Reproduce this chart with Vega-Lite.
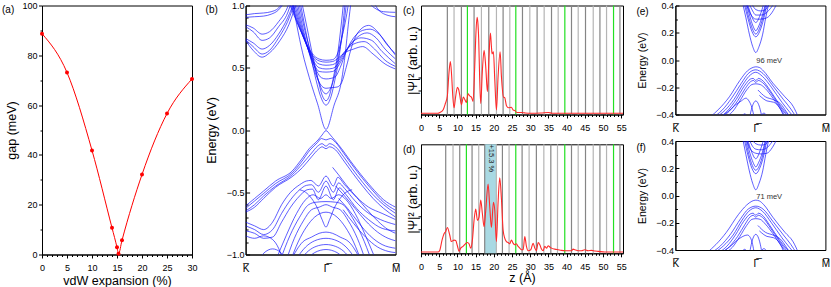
{
"$schema":"https://vega.github.io/schema/vega-lite/v6.json",
"padding":{"left":1,"top":0.5,"right":0,"bottom":0},
"config":{"font":"Liberation Sans","view":{"stroke":"#000000","strokeWidth":1},
"axis":{"labelFontSize":9,"titleFontSize":12.5,"titleFontWeight":"normal","labelColor":"#000","titleColor":"#000","tickColor":"#000","domainColor":"#000","grid":false,"labelFlush":false,"labelOverlap":false,"tickWidth":1,"domainWidth":1},
"title":{"fontSize":10,"fontWeight":"normal","anchor":"start","frame":"group","baseline":"top","color":"#000"}},
"spacing":8.4,
"hconcat":[
{"spacing":1.0,"hconcat":[
{"spacing":6.6,"hconcat":[
{"width":150,"height":249,"title":{"text":"(a)","dx":-40,"offset":-13.3},
"data":{"values":[{"x":0,"y":88.7},{"x":5,"y":73.1},{"x":10,"y":41.8},{"x":14,"y":10.7},{"x":15,"y":2.9},{"x":15.3,"y":0.3},{"x":16,"y":5.7},{"x":20,"y":32.1},{"x":25,"y":56.6},{"x":30,"y":70.5}]},
"encoding":{"x":{"field":"x","type":"quantitative","scale":{"domain":[0,30],"nice":false},"axis":{"title":"vdW expansion (%)","values":[0,1,2,3,4,5,6,7,8,9,10,11,12,13,14,15,16,17,18,19,20,21,22,23,24,25,26,27,28,29,30],"labelOverlap":false,"labelExpr":"datum.value % 5 === 0 ? datum.label : ''","tickSize":{"condition":{"test":"datum.value % 5 === 0","value":3.5},"value":2},"labelPadding":5.5,"titlePadding":2}},
"y":{"field":"y","type":"quantitative","scale":{"domain":[0,100],"nice":false},"axis":{"title":"gap (meV)","values":[0,10,20,30,40,50,60,70,80,90,100],"labelOverlap":false,"labelExpr":"datum.value % 20 === 0 ? datum.label : ''","tickSize":{"condition":{"test":"datum.value % 20 === 0","value":3.5},"value":2},"labelPadding":1.5,"minExtent":20.5,"maxExtent":20.5,"titlePadding":2.75}}},
"layer":[
{"mark":{"type":"line","color":"#ff0000","strokeWidth":1,"interpolate":"monotone"}},
{"mark":{"type":"point","filled":true,"color":"#ff0000","size":16,"opacity":1}}
]},
{"width":150,"height":249,"title":{"text":"(b)","dx":-40,"offset":-13.3},
"data":{"values":[
{"s":"c1","k":31,"e":1.05},{"s":"c1","k":34,"e":0.85},{"s":"c1","k":38,"e":0.62},{"s":"c1","k":42.5,"e":0.42},{"s":"c1","k":48,"e":0.21},{"s":"c1","k":53.6,"e":0.005},{"s":"c1","k":59,"e":0.2},{"s":"c1","k":64,"e":0.4},{"s":"c1","k":66.5,"e":0.62},{"s":"c1","k":68.5,"e":0.85},{"s":"c1","k":70.5,"e":1.05},
{"s":"c2","k":36,"e":1.05},{"s":"c2","k":40,"e":0.8},{"s":"c2","k":44,"e":0.56},{"s":"c2","k":47,"e":0.4},{"s":"c2","k":50,"e":0.27},{"s":"c2","k":53.6,"e":0.2},{"s":"c2","k":57,"e":0.27},{"s":"c2","k":59.5,"e":0.4},{"s":"c2","k":62,"e":0.56},{"s":"c2","k":64.5,"e":0.8},{"s":"c2","k":66.5,"e":1.05},
{"s":"c3","k":37,"e":1.05},{"s":"c3","k":41,"e":0.82},{"s":"c3","k":45,"e":0.58},{"s":"c3","k":48,"e":0.42},{"s":"c3","k":51,"e":0.28},{"s":"c3","k":53.6,"e":0.235},{"s":"c3","k":56,"e":0.28},{"s":"c3","k":58.5,"e":0.42},{"s":"c3","k":61,"e":0.58},{"s":"c3","k":63.5,"e":0.82},{"s":"c3","k":65.5,"e":1.05},
{"s":"c4","k":35,"e":1.05},{"s":"c4","k":39.5,"e":0.8},{"s":"c4","k":44,"e":0.6},{"s":"c4","k":48,"e":0.42},{"s":"c4","k":51,"e":0.32},{"s":"c4","k":53.6,"e":0.29},{"s":"c4","k":56,"e":0.32},{"s":"c4","k":59,"e":0.42},{"s":"c4","k":62,"e":0.6},{"s":"c4","k":65,"e":0.8},{"s":"c4","k":67.5,"e":1.05},
{"s":"c5","k":34,"e":1.05},{"s":"c5","k":39,"e":0.78},{"s":"c5","k":44,"e":0.55},{"s":"c5","k":48,"e":0.41},{"s":"c5","k":51,"e":0.35},{"s":"c5","k":53.6,"e":0.335},{"s":"c5","k":57,"e":0.34},{"s":"c5","k":61,"e":0.345},{"s":"c5","k":64,"e":0.38},{"s":"c5","k":67,"e":0.5},{"s":"c5","k":71,"e":0.68},{"s":"c5","k":76,"e":0.8},{"s":"c5","k":82,"e":0.84},{"s":"c5","k":88,"e":0.79},{"s":"c5","k":94,"e":0.69},{"s":"c5","k":100,"e":0.61},
{"s":"c6","k":33,"e":1.05},{"s":"c6","k":38,"e":0.8},{"s":"c6","k":43,"e":0.6},{"s":"c6","k":47.5,"e":0.47},{"s":"c6","k":50.5,"e":0.42},{"s":"c6","k":53.6,"e":0.41},{"s":"c6","k":57,"e":0.415},{"s":"c6","k":60,"e":0.43},{"s":"c6","k":63,"e":0.5},{"s":"c6","k":67,"e":0.63},{"s":"c6","k":72,"e":0.74},{"s":"c6","k":78,"e":0.8},{"s":"c6","k":83,"e":0.81},{"s":"c6","k":89,"e":0.77},{"s":"c6","k":95,"e":0.68},{"s":"c6","k":100,"e":0.6},
{"s":"c7","k":32,"e":1.05},{"s":"c7","k":37,"e":0.82},{"s":"c7","k":42,"e":0.64},{"s":"c7","k":46,"e":0.52},{"s":"c7","k":49,"e":0.47},{"s":"c7","k":53.6,"e":0.465},{"s":"c7","k":58,"e":0.47},{"s":"c7","k":61,"e":0.5},{"s":"c7","k":64,"e":0.56},{"s":"c7","k":68,"e":0.65},{"s":"c7","k":74,"e":0.74},{"s":"c7","k":81,"e":0.78},{"s":"c7","k":87,"e":0.74},{"s":"c7","k":93,"e":0.65},{"s":"c7","k":100,"e":0.57},
{"s":"c8","k":31,"e":1.05},{"s":"c8","k":36,"e":0.84},{"s":"c8","k":41,"e":0.67},{"s":"c8","k":45.5,"e":0.55},{"s":"c8","k":49,"e":0.5},{"s":"c8","k":53.6,"e":0.49},{"s":"c8","k":58,"e":0.495},{"s":"c8","k":61.5,"e":0.53},{"s":"c8","k":65,"e":0.6},{"s":"c8","k":70,"e":0.69},{"s":"c8","k":77,"e":0.74},{"s":"c8","k":84,"e":0.72},{"s":"c8","k":91,"e":0.63},{"s":"c8","k":100,"e":0.53},
{"s":"c9","k":30,"e":1.05},{"s":"c9","k":35,"e":0.86},{"s":"c9","k":40,"e":0.7},{"s":"c9","k":45,"e":0.58},{"s":"c9","k":49,"e":0.53},{"s":"c9","k":53.6,"e":0.52},{"s":"c9","k":58,"e":0.525},{"s":"c9","k":62,"e":0.56},{"s":"c9","k":66,"e":0.63},{"s":"c9","k":72,"e":0.69},{"s":"c9","k":79,"e":0.71},{"s":"c9","k":86,"e":0.65},{"s":"c9","k":93,"e":0.56},{"s":"c9","k":100,"e":0.51},
{"s":"c10","k":29,"e":1.05},{"s":"c10","k":34,"e":0.88},{"s":"c10","k":39.5,"e":0.72},{"s":"c10","k":44.5,"e":0.6},{"s":"c10","k":49,"e":0.555},{"s":"c10","k":53.6,"e":0.545},{"s":"c10","k":58,"e":0.55},{"s":"c10","k":62,"e":0.58},{"s":"c10","k":66,"e":0.62},{"s":"c10","k":72,"e":0.65},{"s":"c10","k":78,"e":0.67},{"s":"c10","k":85,"e":0.61},{"s":"c10","k":93,"e":0.53},{"s":"c10","k":100,"e":0.49},
{"s":"c11","k":28,"e":1.05},{"s":"c11","k":33,"e":0.9},{"s":"c11","k":38.5,"e":0.75},{"s":"c11","k":44,"e":0.62},{"s":"c11","k":49,"e":0.57},{"s":"c11","k":53.6,"e":0.56},{"s":"c11","k":58,"e":0.565},{"s":"c11","k":61.5,"e":0.62},{"s":"c11","k":64.5,"e":0.76},{"s":"c11","k":67,"e":0.9},{"s":"c11","k":69,"e":1.05},
{"s":"l1","k":0,"e":0.925},{"s":"l1","k":6,"e":0.935},{"s":"l1","k":12,"e":0.94},{"s":"l1","k":17,"e":0.95},{"s":"l1","k":22,"e":0.98},{"s":"l1","k":26,"e":1.05},
{"s":"l2","k":0,"e":0.905},{"s":"l2","k":6,"e":0.91},{"s":"l2","k":12,"e":0.915},{"s":"l2","k":17,"e":0.93},{"s":"l2","k":22,"e":0.965},{"s":"l2","k":27,"e":1.05},
{"s":"l3","k":0,"e":0.845},{"s":"l3","k":5,"e":0.82},{"s":"l3","k":11,"e":0.77},{"s":"l3","k":16,"e":0.79},{"s":"l3","k":22,"e":0.87},{"s":"l3","k":27,"e":0.96},{"s":"l3","k":30,"e":1.05},
{"s":"l4","k":0,"e":0.83},{"s":"l4","k":5,"e":0.79},{"s":"l4","k":11,"e":0.72},{"s":"l4","k":16,"e":0.74},{"s":"l4","k":22,"e":0.83},{"s":"l4","k":28,"e":0.94},{"s":"l4","k":31,"e":1.05},
{"s":"l5","k":0,"e":0.735},{"s":"l5","k":5,"e":0.7},{"s":"l5","k":11,"e":0.65},{"s":"l5","k":16,"e":0.68},{"s":"l5","k":22,"e":0.77},{"s":"l5","k":28,"e":0.9},{"s":"l5","k":33,"e":1.05},
{"s":"l6","k":0,"e":0.725},{"s":"l6","k":5,"e":0.67},{"s":"l6","k":11,"e":0.61},{"s":"l6","k":16,"e":0.64},{"s":"l6","k":22,"e":0.74},{"s":"l6","k":28,"e":0.87},{"s":"l6","k":33.5,"e":1.05},
{"s":"l7","k":0,"e":0.72},{"s":"l7","k":5,"e":0.64},{"s":"l7","k":11,"e":0.585},{"s":"l7","k":16,"e":0.62},{"s":"l7","k":23,"e":0.72},{"s":"l7","k":29,"e":0.85},{"s":"l7","k":34.5,"e":1.05},
{"s":"r1","k":80,"e":1.05},{"s":"r1","k":86,"e":0.98},{"s":"r1","k":92,"e":0.95},{"s":"r1","k":100,"e":0.945},
{"s":"r2","k":84,"e":1.05},{"s":"r2","k":89,"e":0.96},{"s":"r2","k":95,"e":0.92},{"s":"r2","k":100,"e":0.91},
{"s":"v1","k":0,"e":-0.61},{"s":"v1","k":6,"e":-0.55},{"s":"v1","k":12,"e":-0.49},{"s":"v1","k":20,"e":-0.41},{"s":"v1","k":31,"e":-0.33},{"s":"v1","k":37,"e":-0.24},{"s":"v1","k":42.4,"e":-0.15},{"s":"v1","k":48.3,"e":-0.08},{"s":"v1","k":51,"e":-0.04},{"s":"v1","k":53.6,"e":-0.005},{"s":"v1","k":56.5,"e":-0.04},{"s":"v1","k":59.3,"e":-0.08},{"s":"v1","k":64,"e":-0.15},{"s":"v1","k":70,"e":-0.25},{"s":"v1","k":77,"e":-0.36},{"s":"v1","k":84,"e":-0.46},{"s":"v1","k":92,"e":-0.56},{"s":"v1","k":100,"e":-0.62},
{"s":"v2","k":0,"e":-0.63},{"s":"v2","k":6,"e":-0.57},{"s":"v2","k":12,"e":-0.51},{"s":"v2","k":20,"e":-0.43},{"s":"v2","k":31,"e":-0.345},{"s":"v2","k":37,"e":-0.26},{"s":"v2","k":43,"e":-0.16},{"s":"v2","k":48,"e":-0.1},{"s":"v2","k":50.5,"e":-0.068},{"s":"v2","k":53.6,"e":-0.08},{"s":"v2","k":56.5,"e":-0.068},{"s":"v2","k":60,"e":-0.1},{"s":"v2","k":65,"e":-0.18},{"s":"v2","k":71,"e":-0.28},{"s":"v2","k":78,"e":-0.39},{"s":"v2","k":85,"e":-0.49},{"s":"v2","k":92,"e":-0.58},{"s":"v2","k":100,"e":-0.645},
{"s":"v3","k":0,"e":-0.65},{"s":"v3","k":6,"e":-0.6},{"s":"v3","k":12,"e":-0.53},{"s":"v3","k":20,"e":-0.45},{"s":"v3","k":31,"e":-0.36},{"s":"v3","k":38,"e":-0.27},{"s":"v3","k":44,"e":-0.185},{"s":"v3","k":48,"e":-0.13},{"s":"v3","k":51,"e":-0.11},{"s":"v3","k":53.6,"e":-0.13},{"s":"v3","k":56,"e":-0.11},{"s":"v3","k":60,"e":-0.135},{"s":"v3","k":65,"e":-0.21},{"s":"v3","k":71,"e":-0.31},{"s":"v3","k":78,"e":-0.42},{"s":"v3","k":85,"e":-0.52},{"s":"v3","k":92,"e":-0.6},{"s":"v3","k":100,"e":-0.67},
{"s":"v4","k":0,"e":-0.66},{"s":"v4","k":6,"e":-0.62},{"s":"v4","k":12,"e":-0.55},{"s":"v4","k":20,"e":-0.46},{"s":"v4","k":31,"e":-0.375},{"s":"v4","k":38,"e":-0.3},{"s":"v4","k":44,"e":-0.215},{"s":"v4","k":48.5,"e":-0.155},{"s":"v4","k":51,"e":-0.135},{"s":"v4","k":53.6,"e":-0.15},{"s":"v4","k":56,"e":-0.135},{"s":"v4","k":60,"e":-0.16},{"s":"v4","k":65,"e":-0.24},{"s":"v4","k":71,"e":-0.34},{"s":"v4","k":78,"e":-0.45},{"s":"v4","k":85,"e":-0.55},{"s":"v4","k":92,"e":-0.63},{"s":"v4","k":100,"e":-0.7},
{"s":"v5","k":0,"e":-0.74},{"s":"v5","k":6,"e":-0.77},{"s":"v5","k":12,"e":-0.8},{"s":"v5","k":18,"e":-0.74},{"s":"v5","k":24,"e":-0.6},{"s":"v5","k":30,"e":-0.5},{"s":"v5","k":36,"e":-0.44},{"s":"v5","k":40.5,"e":-0.41},{"s":"v5","k":43.6,"e":-0.405},{"s":"v5","k":48.5,"e":-0.45},{"s":"v5","k":53.6,"e":-0.37},{"s":"v5","k":58.5,"e":-0.45},{"s":"v5","k":61.5,"e":-0.38},{"s":"v5","k":66,"e":-0.44},{"s":"v5","k":74,"e":-0.54},{"s":"v5","k":82,"e":-0.62},{"s":"v5","k":91,"e":-0.67},{"s":"v5","k":100,"e":-0.72},
{"s":"v6","k":0,"e":-0.77},{"s":"v6","k":6,"e":-0.8},{"s":"v6","k":12,"e":-0.84},{"s":"v6","k":18,"e":-0.8},{"s":"v6","k":24,"e":-0.67},{"s":"v6","k":30,"e":-0.56},{"s":"v6","k":36,"e":-0.48},{"s":"v6","k":40.5,"e":-0.445},{"s":"v6","k":44,"e":-0.44},{"s":"v6","k":48.5,"e":-0.5},{"s":"v6","k":53.6,"e":-0.41},{"s":"v6","k":58.5,"e":-0.5},{"s":"v6","k":62,"e":-0.425},{"s":"v6","k":66,"e":-0.47},{"s":"v6","k":73,"e":-0.57},{"s":"v6","k":81,"e":-0.66},{"s":"v6","k":90,"e":-0.72},{"s":"v6","k":100,"e":-0.76},
{"s":"v7","k":0,"e":-0.81},{"s":"v7","k":6,"e":-0.83},{"s":"v7","k":12,"e":-0.87},{"s":"v7","k":18,"e":-0.86},{"s":"v7","k":24,"e":-0.74},{"s":"v7","k":30,"e":-0.62},{"s":"v7","k":36,"e":-0.53},{"s":"v7","k":41,"e":-0.48},{"s":"v7","k":44.5,"e":-0.475},{"s":"v7","k":48.5,"e":-0.56},{"s":"v7","k":53.6,"e":-0.45},{"s":"v7","k":58.5,"e":-0.56},{"s":"v7","k":62.5,"e":-0.465},{"s":"v7","k":67,"e":-0.52},{"s":"v7","k":74,"e":-0.63},{"s":"v7","k":82,"e":-0.72},{"s":"v7","k":91,"e":-0.79},{"s":"v7","k":100,"e":-0.81},
{"s":"v8","k":0,"e":-0.85},{"s":"v8","k":6,"e":-0.87},{"s":"v8","k":12,"e":-0.85},{"s":"v8","k":18,"e":-0.88},{"s":"v8","k":22,"e":-0.95},{"s":"v8","k":25,"e":-1.05},
{"s":"s1","k":20,"e":-1.05},{"s":"s1","k":27,"e":-0.85},{"s":"s1","k":34,"e":-0.67},{"s":"s1","k":40,"e":-0.56},{"s":"s1","k":45,"e":-0.52},{"s":"s1","k":50,"e":-0.55},{"s":"s1","k":53.6,"e":-0.52},{"s":"s1","k":57,"e":-0.55},{"s":"s1","k":62,"e":-0.52},{"s":"s1","k":67,"e":-0.56},{"s":"s1","k":73,"e":-0.67},{"s":"s1","k":80,"e":-0.85},{"s":"s1","k":87,"e":-1.05},
{"s":"s2","k":23,"e":-1.05},{"s":"s2","k":29.5,"e":-0.85},{"s":"s2","k":36,"e":-0.7},{"s":"s2","k":42,"e":-0.6},{"s":"s2","k":47,"e":-0.58},{"s":"s2","k":53.6,"e":-0.575},{"s":"s2","k":60,"e":-0.58},{"s":"s2","k":65,"e":-0.6},{"s":"s2","k":71,"e":-0.7},{"s":"s2","k":77.5,"e":-0.85},{"s":"s2","k":84,"e":-1.05},
{"s":"s3","k":27,"e":-1.05},{"s":"s3","k":32.5,"e":-0.87},{"s":"s3","k":38.5,"e":-0.73},{"s":"s3","k":44,"e":-0.64},{"s":"s3","k":49,"e":-0.62},{"s":"s3","k":53.6,"e":-0.6},{"s":"s3","k":58,"e":-0.62},{"s":"s3","k":63,"e":-0.64},{"s":"s3","k":68.5,"e":-0.73},{"s":"s3","k":74.5,"e":-0.87},{"s":"s3","k":80,"e":-1.05},
{"s":"s4","k":30,"e":-1.05},{"s":"s4","k":35,"e":-0.9},{"s":"s4","k":40.5,"e":-0.78},{"s":"s4","k":46,"e":-0.7},{"s":"s4","k":53.6,"e":-0.66},{"s":"s4","k":61,"e":-0.7},{"s":"s4","k":66.5,"e":-0.78},{"s":"s4","k":72,"e":-0.9},{"s":"s4","k":77,"e":-1.05},
{"s":"s5","k":36,"e":-0.48},{"s":"s5","k":40,"e":-0.5},{"s":"s5","k":44,"e":-0.55},{"s":"s5","k":48,"e":-0.63},{"s":"s5","k":51,"e":-0.72},{"s":"s5","k":53.6,"e":-0.78},{"s":"s5","k":56,"e":-0.72},{"s":"s5","k":59,"e":-0.63},{"s":"s5","k":63,"e":-0.55},{"s":"s5","k":67,"e":-0.5},{"s":"s5","k":71,"e":-0.48},
{"s":"u1","k":30,"e":-1.05},{"s":"u1","k":38,"e":-0.9},{"s":"u1","k":44,"e":-0.86},{"s":"u1","k":49,"e":-0.83},{"s":"u1","k":53.6,"e":-0.82},{"s":"u1","k":58,"e":-0.83},{"s":"u1","k":63,"e":-0.86},{"s":"u1","k":69,"e":-0.9},{"s":"u1","k":77,"e":-1.05},
{"s":"u2","k":33,"e":-1.05},{"s":"u2","k":40,"e":-0.94},{"s":"u2","k":46,"e":-0.89},{"s":"u2","k":53.6,"e":-0.87},{"s":"u2","k":61,"e":-0.89},{"s":"u2","k":67,"e":-0.94},{"s":"u2","k":74,"e":-1.05},
{"s":"u3","k":36,"e":-1.05},{"s":"u3","k":42,"e":-0.97},{"s":"u3","k":47,"e":-0.935},{"s":"u3","k":53.6,"e":-0.92},{"s":"u3","k":60,"e":-0.935},{"s":"u3","k":65,"e":-0.97},{"s":"u3","k":71,"e":-1.05},
{"s":"u4","k":40,"e":-1.05},{"s":"u4","k":46,"e":-0.985},{"s":"u4","k":53.6,"e":-0.96},{"s":"u4","k":61,"e":-0.985},{"s":"u4","k":67,"e":-1.05},
{"s":"w1","k":58,"e":-0.3},{"s":"w1","k":62,"e":-0.36},{"s":"w1","k":67,"e":-0.44},{"s":"w1","k":74,"e":-0.54},{"s":"w1","k":81,"e":-0.64},{"s":"w1","k":88,"e":-0.73},{"s":"w1","k":95,"e":-0.8},{"s":"w1","k":100,"e":-0.83},
{"s":"w2","k":60,"e":-0.45},{"s":"w2","k":66,"e":-0.53},{"s":"w2","k":73,"e":-0.63},{"s":"w2","k":80,"e":-0.73},{"s":"w2","k":88,"e":-0.82},{"s":"w2","k":95,"e":-0.87},{"s":"w2","k":100,"e":-0.89},
{"s":"w3","k":62,"e":-0.55},{"s":"w3","k":68,"e":-0.63},{"s":"w3","k":75,"e":-0.74},{"s":"w3","k":83,"e":-0.85},{"s":"w3","k":91,"e":-0.92},{"s":"w3","k":100,"e":-0.95},
{"s":"w4","k":65,"e":-0.64},{"s":"w4","k":72,"e":-0.75},{"s":"w4","k":80,"e":-0.86},{"s":"w4","k":88,"e":-0.94},{"s":"w4","k":95,"e":-0.975},{"s":"w4","k":100,"e":-0.985},
{"s":"w5","k":8,"e":-1.05},{"s":"w5","k":13,"e":-0.98},{"s":"w5","k":18,"e":-0.955},{"s":"w5","k":23,"e":-0.98},{"s":"w5","k":27,"e":-1.05}
]},
"mark":{"type":"line","interpolate":"monotone","color":"#1010ff","strokeWidth":0.8,"opacity":0.85,"clip":true},
"encoding":{"x":{"field":"k","type":"quantitative","scale":{"domain":[0,100],"nice":false},"axis":{"title":null,"values":[0,53.6,100],"labelOverlap":false,"labelExpr":"datum.value == 0 ? 'K̅' : datum.value == 100 ? 'M̅' : 'Γ̅'","ticks":false,"labelPadding":8.5,"labelFontSize":10}},
"y":{"field":"e","type":"quantitative","scale":{"domain":[-1,1],"nice":false,"zero":false},"axis":{"title":"Energy (eV)","values":[-1,-0.9,-0.8,-0.7,-0.6,-0.5,-0.4,-0.3,-0.2,-0.1,0,0.1,0.2,0.3,0.4,0.5,0.6,0.7,0.8,0.9,1],"format":".1f","labelOverlap":false,"labelExpr":"abs(datum.value*2 - round(datum.value*2)) < 0.001 ? datum.label : ''","tickSize":{"condition":{"test":"abs(datum.value*2 - round(datum.value*2)) < 0.001","value":-4},"value":-2.5},"labelPadding":5.5,"minExtent":18,"maxExtent":18,"titlePadding":8.75}},
"detail":{"field":"s","type":"nominal"}}}
]},
{"spacing":8.8,"vconcat":[
{"width":202,"height":109,"title":{"text":"(c)","dx":-18,"offset":-14},
"encoding":{"x":{"field":"z","type":"quantitative","scale":{"domain":[0,55.5],"nice":false,"zero":false},"axis":{"title":null,"values":[0,1,2,3,4,5,6,7,8,9,10,11,12,13,14,15,16,17,18,19,20,21,22,23,24,25,26,27,28,29,30,31,32,33,34,35,36,37,38,39,40,41,42,43,44,45,46,47,48,49,50,51,52,53,54,55],"labelOverlap":false,"labelExpr":"datum.value % 5 === 0 ? datum.label : ''","tickSize":{"condition":{"test":"datum.value % 5 === 0","value":3.5},"value":2},"labelPadding":5.5}}},
"layer":[
{"data":{"values":[{"z":7.24,"t":"d"},{"z":9.08,"t":"l"},{"z":11.1,"t":"d"},{"z":12.75,"t":"g"},{"z":14.58,"t":"d"},{"z":16.6,"t":"l"},{"z":18.62,"t":"d"},{"z":20.73,"t":"l"},{"z":22.56,"t":"d"},{"z":24.4,"t":"l"},{"z":26.05,"t":"g"},{"z":27.88,"t":"d"},{"z":29.9,"t":"l"},{"z":31.9,"t":"d"},{"z":33.84,"t":"l"},{"z":35.86,"t":"d"},{"z":37.69,"t":"l"},{"z":39.52,"t":"g"},{"z":41.35,"t":"d"},{"z":43.19,"t":"l"},{"z":45.2,"t":"d"},{"z":47.32,"t":"l"},{"z":49.16,"t":"d"},{"z":50.98,"t":"l"},{"z":52.9,"t":"g"},{"z":54.66,"t":"d"}]},
"mark":{"type":"rule","strokeWidth":1.2},
"encoding":{"color":{"field":"t","type":"nominal","scale":{"domain":["d","l","g"],"range":["#858585","#b5b5b5","#22e022"]},"legend":null}}},
{"data":{"values":[{"z":0,"v":0},{"z":4.7,"v":0},{"z":5.14,"v":0.006},{"z":6.05,"v":0.03},{"z":6.69,"v":0.09},{"z":7.24,"v":0.16},{"z":7.7,"v":0.38},{"z":8.07,"v":0.48},{"z":8.4,"v":0.36},{"z":8.75,"v":0.15},{"z":9.08,"v":0.05},{"z":9.5,"v":0.15},{"z":10.0,"v":0.24},{"z":10.35,"v":0.22},{"z":10.64,"v":0.17},{"z":11.1,"v":0.08},{"z":11.65,"v":0.15},{"z":12.0,"v":0.13},{"z":12.47,"v":0.1},{"z":12.93,"v":0.18},{"z":13.39,"v":0.16},{"z":13.85,"v":0.15},{"z":14.3,"v":0.11},{"z":14.76,"v":0.43},{"z":15.1,"v":0.75},{"z":15.4,"v":0.89},{"z":15.6,"v":0.85},{"z":15.86,"v":0.68},{"z":16.1,"v":0.35},{"z":16.4,"v":0.09},{"z":16.87,"v":0.4},{"z":17.33,"v":0.585},{"z":17.79,"v":0.43},{"z":18.25,"v":0.2},{"z":18.71,"v":0.55},{"z":19.07,"v":0.745},{"z":19.35,"v":0.62},{"z":19.53,"v":0.55},{"z":19.9,"v":0.57},{"z":20.27,"v":0.31},{"z":20.73,"v":0.03},{"z":21.18,"v":0.34},{"z":21.74,"v":0.57},{"z":22.1,"v":0.34},{"z":22.65,"v":0.15},{"z":23.0,"v":0.145},{"z":23.48,"v":0.07},{"z":24.1,"v":0.05},{"z":24.85,"v":0.055},{"z":25.3,"v":0.03},{"z":25.77,"v":0.025},{"z":26.4,"v":0.006},{"z":27.6,"v":0.006},{"z":28.5,"v":0.003},{"z":30,"v":0},{"z":33,"v":0.002},{"z":35,"v":0.006},{"z":36,"v":0},{"z":55.5,"v":0}]},
"mark":{"type":"line","color":"#ff2a2a","strokeWidth":1.1,"interpolate":"monotone"},
"encoding":{"y":{"field":"v","type":"quantitative","scale":{"domain":[-0.012,1],"nice":false,"zero":false},"axis":{"title":"|Ψ|² (arb. u.)","values":[0.215,0.33,0.446,0.775,1],"labelOverlap":false,"labelExpr":"datum.value == 1 ? ' ' : ''","labelOpacity":0,"tickOpacity":{"condition":{"test":"datum.value == 1","value":0},"value":1},"tickSize":3,"minExtent":0,"maxExtent":0,"titlePadding":1.25}}}}
]},
{"width":202,"height":109,"title":{"text":"(d)","dx":-18,"offset":-11.7},
"encoding":{"x":{"field":"z","type":"quantitative","scale":{"domain":[0,55.5],"nice":false,"zero":false},"axis":{"title":"z (Å)","values":[0,1,2,3,4,5,6,7,8,9,10,11,12,13,14,15,16,17,18,19,20,21,22,23,24,25,26,27,28,29,30,31,32,33,34,35,36,37,38,39,40,41,42,43,44,45,46,47,48,49,50,51,52,53,54,55],"labelOverlap":false,"labelExpr":"datum.value % 5 === 0 ? datum.label : ''","tickSize":{"condition":{"test":"datum.value % 5 === 0","value":3.5},"value":2},"labelPadding":5.5,"titlePadding":0}}},
"layer":[
{"data":{"values":[{"z":17.5,"z2":20.7}]},"mark":{"type":"rect","color":"#a9d9e3"},
"encoding":{"x2":{"field":"z2"}}},
{"data":{"values":[{"z":6.79,"t":"d"},{"z":8.8,"t":"l"},{"z":10.64,"t":"d"},{"z":12.47,"t":"g"},{"z":14.03,"t":"d"},{"z":15.86,"t":"l"},{"z":17.5,"t":"d"},{"z":20.7,"t":"l"},{"z":22.37,"t":"d"},{"z":24.2,"t":"l"},{"z":26.04,"t":"g"},{"z":27.78,"t":"d"},{"z":29.7,"t":"l"},{"z":31.7,"t":"d"},{"z":33.75,"t":"l"},{"z":35.67,"t":"d"},{"z":37.5,"t":"l"},{"z":39.5,"t":"g"},{"z":41.35,"t":"d"},{"z":43.19,"t":"l"},{"z":45.2,"t":"d"},{"z":47.32,"t":"l"},{"z":49.16,"t":"d"},{"z":50.98,"t":"l"},{"z":52.9,"t":"g"},{"z":54.66,"t":"d"}]},
"mark":{"type":"rule","strokeWidth":1.2},
"encoding":{"color":{"field":"t","type":"nominal","scale":{"domain":["d","l","g"],"range":["#858585","#b5b5b5","#22e022"]},"legend":null}}},
{"data":{"values":[{"z":0,"v":0},{"z":4.68,"v":0},{"z":5.14,"v":0.015},{"z":5.78,"v":0.11},{"z":6.33,"v":0.17},{"z":6.79,"v":0.19},{"z":7.24,"v":0.228},{"z":7.89,"v":0.158},{"z":8.34,"v":0.097},{"z":9.08,"v":0.11},{"z":9.54,"v":0.106},{"z":10.0,"v":0.058},{"z":10.45,"v":0.006},{"z":10.91,"v":0.036},{"z":11.55,"v":0.052},{"z":12.2,"v":0.076},{"z":12.75,"v":0.088},{"z":13.2,"v":0.076},{"z":13.66,"v":0.036},{"z":14.12,"v":0.11},{"z":14.58,"v":0.295},{"z":15.04,"v":0.4},{"z":15.5,"v":0.295},{"z":15.96,"v":0.325},{"z":16.41,"v":0.483},{"z":16.87,"v":0.355},{"z":17.33,"v":0.235},{"z":17.79,"v":0.386},{"z":18.43,"v":0.63},{"z":18.89,"v":0.42},{"z":19.35,"v":0.228},{"z":19.9,"v":0.462},{"z":20.27,"v":0.386},{"z":20.72,"v":0.097},{"z":21.18,"v":0.462},{"z":21.64,"v":0.69},{"z":22.1,"v":0.492},{"z":22.56,"v":0.204},{"z":23.0,"v":0.128},{"z":23.47,"v":0.097},{"z":23.93,"v":0.088},{"z":24.39,"v":0.076},{"z":24.85,"v":0.112},{"z":25.3,"v":0.082},{"z":25.77,"v":0.067},{"z":26.2,"v":0.076},{"z":26.68,"v":0.052},{"z":27.14,"v":0.036},{"z":27.6,"v":0.021},{"z":28.06,"v":0.021},{"z":28.52,"v":0.143},{"z":28.97,"v":0.052},{"z":29.43,"v":0.012},{"z":30.17,"v":0.021},{"z":30.8,"v":0.082},{"z":31.27,"v":0.036},{"z":31.7,"v":0.012},{"z":32.19,"v":0.088},{"z":32.65,"v":0.067},{"z":33.1,"v":0.027},{"z":33.56,"v":0.012},{"z":34.0,"v":0.052},{"z":34.48,"v":0.036},{"z":34.94,"v":0.058},{"z":35.4,"v":0.046},{"z":35.85,"v":0.036},{"z":36.77,"v":0.027},{"z":37.69,"v":0.021},{"z":38.6,"v":0.015},{"z":39.5,"v":0.012},{"z":41.36,"v":0.012},{"z":41.8,"v":0.027},{"z":42.27,"v":0.021},{"z":43.19,"v":0.012},{"z":44.1,"v":0.012},{"z":45.0,"v":0.021},{"z":45.94,"v":0.012},{"z":46.86,"v":0.015},{"z":47.77,"v":0.009},{"z":48.7,"v":0.006},{"z":50.5,"v":0},{"z":55.5,"v":0}]},
"mark":{"type":"line","color":"#ff2a2a","strokeWidth":1.1,"interpolate":"monotone"},
"encoding":{"y":{"field":"v","type":"quantitative","scale":{"domain":[-0.012,1],"nice":false,"zero":false},"axis":{"title":"|Ψ|² (arb. u.)","values":[0.215,0.33,0.446,0.775],"labels":false,"tickSize":3,"minExtent":0,"maxExtent":0,"titlePadding":1.25}}}},
{"data":{"values":[{"z":19.1,"v":0.87,"t":"+15.3 %"}]},"mark":{"type":"text","angle":90,"fontSize":7.5,"color":"#222"},
"encoding":{"y":{"field":"v","type":"quantitative","scale":{"domain":[-0.012,1],"nice":false,"zero":false},"axis":{"title":"|Ψ|² (arb. u.)","values":[0.215,0.33,0.446,0.775],"labels":false,"tickSize":3,"minExtent":0,"maxExtent":0,"titlePadding":1.25}},"text":{"field":"t"}}}
]}
]}
]},
{"spacing":2.5,"vconcat":[
{"width":150,"height":109,"title":{"text":"(e)","dx":-39,"offset":-15},
"encoding":{"x":{"field":"k","type":"quantitative","scale":{"domain":[0,100],"nice":false},"axis":{"title":null,"values":[0,53.6,100],"labelOverlap":false,"labelExpr":"datum.value == 0 ? 'K̅' : datum.value == 100 ? 'M̅' : 'Γ̅'","ticks":false,"labelPadding":8.5,"labelFontSize":10}},
"y":{"field":"e","type":"quantitative","scale":{"domain":[-0.4,0.4],"nice":false,"zero":false},"axis":{"title":"Energy (eV)","titleFontSize":10.5,"values":[-0.4,-0.3,-0.2,-0.1,0,0.1,0.2,0.3,0.4],"format":".1f","labelOverlap":false,"labelExpr":"abs(datum.value*5 - round(datum.value*5)) < 0.001 ? datum.label : ''","tickSize":{"condition":{"test":"abs(datum.value*5 - round(datum.value*5)) < 0.001","value":-3.5},"value":-2},"labelPadding":5.3,"minExtent":18,"maxExtent":18,"titlePadding":10.25}}},
"layer":[
{"data":{"values":[
{"s":"c1","k":45,"e":0.41},{"s":"c1","k":47,"e":0.31},{"s":"c1","k":49.3,"e":0.19},{"s":"c1","k":51.5,"e":0.1},{"s":"c1","k":53.6,"e":0.055},{"s":"c1","k":55.8,"e":0.1},{"s":"c1","k":58.2,"e":0.19},{"s":"c1","k":60.2,"e":0.31},{"s":"c1","k":62.2,"e":0.41},
{"s":"c2","k":46,"e":0.41},{"s":"c2","k":48.5,"e":0.3},{"s":"c2","k":51,"e":0.21},{"s":"c2","k":53.6,"e":0.17},{"s":"c2","k":56.2,"e":0.21},{"s":"c2","k":58.8,"e":0.3},{"s":"c2","k":61,"e":0.41},
{"s":"c3","k":46.8,"e":0.41},{"s":"c3","k":49,"e":0.31},{"s":"c3","k":51.3,"e":0.23},{"s":"c3","k":53.6,"e":0.19},{"s":"c3","k":56,"e":0.23},{"s":"c3","k":58.3,"e":0.31},{"s":"c3","k":60.4,"e":0.41},
{"s":"c4","k":47.5,"e":0.41},{"s":"c4","k":49.7,"e":0.32},{"s":"c4","k":51.7,"e":0.25},{"s":"c4","k":53.6,"e":0.215},{"s":"c4","k":55.6,"e":0.25},{"s":"c4","k":57.8,"e":0.32},{"s":"c4","k":60,"e":0.41},
{"s":"c5","k":48.2,"e":0.41},{"s":"c5","k":50.5,"e":0.33},{"s":"c5","k":53.6,"e":0.275},{"s":"c5","k":56.5,"e":0.33},{"s":"c5","k":58.8,"e":0.41},
{"s":"c6","k":47.5,"e":0.41},{"s":"c6","k":50,"e":0.34},{"s":"c6","k":53.6,"e":0.3},{"s":"c6","k":57,"e":0.3},{"s":"c6","k":61,"e":0.31},{"s":"c6","k":64.5,"e":0.35},{"s":"c6","k":67.5,"e":0.41},
{"s":"c7","k":49.3,"e":0.41},{"s":"c7","k":51.5,"e":0.36},{"s":"c7","k":53.6,"e":0.33},{"s":"c7","k":57,"e":0.33},{"s":"c7","k":61,"e":0.35},{"s":"c7","k":63.5,"e":0.38},{"s":"c7","k":65.5,"e":0.41},
{"s":"c8","k":51,"e":0.41},{"s":"c8","k":53.6,"e":0.37},{"s":"c8","k":57,"e":0.36},{"s":"c8","k":60,"e":0.37},{"s":"c8","k":62.5,"e":0.41},
{"s":"v1","k":23,"e":-0.42},{"s":"v1","k":29,"e":-0.36},{"s":"v1","k":36,"e":-0.27},{"s":"v1","k":43,"e":-0.15},{"s":"v1","k":48,"e":-0.08},{"s":"v1","k":51,"e":-0.058},{"s":"v1","k":53.6,"e":-0.05},{"s":"v1","k":56,"e":-0.055},{"s":"v1","k":58.7,"e":-0.08},{"s":"v1","k":65,"e":-0.17},{"s":"v1","k":73,"e":-0.27},{"s":"v1","k":78.5,"e":-0.34},{"s":"v1","k":82,"e":-0.42},
{"s":"v2","k":25,"e":-0.42},{"s":"v2","k":31,"e":-0.37},{"s":"v2","k":37.5,"e":-0.28},{"s":"v2","k":44,"e":-0.17},{"s":"v2","k":48.5,"e":-0.1},{"s":"v2","k":53.6,"e":-0.072},{"s":"v2","k":58.5,"e":-0.1},{"s":"v2","k":65,"e":-0.19},{"s":"v2","k":72,"e":-0.29},{"s":"v2","k":77,"e":-0.36},{"s":"v2","k":80.5,"e":-0.42},
{"s":"v3","k":27,"e":-0.42},{"s":"v3","k":33,"e":-0.37},{"s":"v3","k":39,"e":-0.29},{"s":"v3","k":45,"e":-0.18},{"s":"v3","k":49,"e":-0.12},{"s":"v3","k":53.6,"e":-0.09},{"s":"v3","k":58,"e":-0.12},{"s":"v3","k":64,"e":-0.2},{"s":"v3","k":71,"e":-0.31},{"s":"v3","k":76,"e":-0.38},{"s":"v3","k":79,"e":-0.42},
{"s":"v4","k":30,"e":-0.42},{"s":"v4","k":35,"e":-0.37},{"s":"v4","k":40.5,"e":-0.29},{"s":"v4","k":46,"e":-0.19},{"s":"v4","k":50,"e":-0.14},{"s":"v4","k":51.8,"e":-0.135},{"s":"v4","k":53.6,"e":-0.15},{"s":"v4","k":55.4,"e":-0.135},{"s":"v4","k":57.5,"e":-0.145},{"s":"v4","k":63,"e":-0.22},{"s":"v4","k":69,"e":-0.32},{"s":"v4","k":74,"e":-0.39},{"s":"v4","k":77,"e":-0.42},
{"s":"v5","k":31,"e":-0.42},{"s":"v5","k":36,"e":-0.375},{"s":"v5","k":41.5,"e":-0.3},{"s":"v5","k":46.5,"e":-0.21},{"s":"v5","k":50,"e":-0.16},{"s":"v5","k":52,"e":-0.15},{"s":"v5","k":53.6,"e":-0.165},{"s":"v5","k":55.2,"e":-0.15},{"s":"v5","k":58,"e":-0.165},{"s":"v5","k":63.5,"e":-0.24},{"s":"v5","k":69,"e":-0.33},{"s":"v5","k":73,"e":-0.39},{"s":"v5","k":76,"e":-0.42},
{"s":"v6","k":33,"e":-0.42},{"s":"v6","k":38,"e":-0.38},{"s":"v6","k":43,"e":-0.3},{"s":"v6","k":47.5,"e":-0.22},{"s":"v6","k":51,"e":-0.18},{"s":"v6","k":53.6,"e":-0.175},{"s":"v6","k":56.5,"e":-0.18},{"s":"v6","k":60,"e":-0.21},{"s":"v6","k":65,"e":-0.28},{"s":"v6","k":70,"e":-0.36},{"s":"v6","k":74,"e":-0.42},
{"s":"v7","k":55,"e":-0.22},{"s":"v7","k":60,"e":-0.27},{"s":"v7","k":65,"e":-0.29},{"s":"v7","k":70,"e":-0.32},{"s":"v7","k":74,"e":-0.38},{"s":"v7","k":76.5,"e":-0.42},
{"s":"v8","k":56,"e":-0.26},{"s":"v8","k":61,"e":-0.3},{"s":"v8","k":65.5,"e":-0.31},{"s":"v8","k":69.5,"e":-0.35},{"s":"v8","k":72.5,"e":-0.42},
{"s":"v9","k":29,"e":-0.42},{"s":"v9","k":35,"e":-0.38},{"s":"v9","k":40,"e":-0.33},{"s":"v9","k":44,"e":-0.3},{"s":"v9","k":47,"e":-0.28},{"s":"v9","k":49,"e":-0.3},{"s":"v9","k":51,"e":-0.35},{"s":"v9","k":52.5,"e":-0.42},
{"s":"v10","k":49.5,"e":-0.42},{"s":"v10","k":51,"e":-0.35},{"s":"v10","k":52.5,"e":-0.31},{"s":"v10","k":53.6,"e":-0.3},{"s":"v10","k":54.7,"e":-0.31},{"s":"v10","k":56.2,"e":-0.35},{"s":"v10","k":57.7,"e":-0.42},
{"s":"v11","k":44,"e":-0.42},{"s":"v11","k":46,"e":-0.395},{"s":"v11","k":48.5,"e":-0.42},
{"s":"v12","k":56.5,"e":-0.42},{"s":"v12","k":59,"e":-0.39},{"s":"v12","k":61.5,"e":-0.42}
]},
"mark":{"type":"line","interpolate":"monotone","color":"#1010ff","strokeWidth":0.8,"opacity":0.85,"clip":true},
"encoding":{"detail":{"field":"s","type":"nominal"}}},
{"data":{"values":[{"k":62.5,"e":-0.004,"t":"96 meV"}]},"mark":{"type":"text","fontSize":7.5,"color":"#333"},
"encoding":{"text":{"field":"t"}}}
]},
{"width":150,"height":109,"title":{"text":"(f)","dx":-39,"offset":-16},
"encoding":{"x":{"field":"k","type":"quantitative","scale":{"domain":[0,100],"nice":false},"axis":{"title":null,"values":[0,53.6,100],"labelOverlap":false,"labelExpr":"datum.value == 0 ? 'K̅' : datum.value == 100 ? 'M̅' : 'Γ̅'","ticks":false,"labelPadding":8.5,"labelFontSize":10}},
"y":{"field":"e","type":"quantitative","scale":{"domain":[-0.4,0.4],"nice":false,"zero":false},"axis":{"title":"Energy (eV)","titleFontSize":10.5,"values":[-0.4,-0.3,-0.2,-0.1,0,0.1,0.2,0.3,0.4],"format":".1f","labelOverlap":false,"labelExpr":"abs(datum.value*5 - round(datum.value*5)) < 0.001 ? datum.label : ''","tickSize":{"condition":{"test":"abs(datum.value*5 - round(datum.value*5)) < 0.001","value":-3.5},"value":-2},"labelPadding":5.3,"minExtent":18,"maxExtent":18,"titlePadding":10.25}}},
"layer":[
{"data":{"values":[
{"s":"c1","k":45,"e":0.41},{"s":"c1","k":47,"e":0.3},{"s":"c1","k":49.3,"e":0.18},{"s":"c1","k":51.5,"e":0.09},{"s":"c1","k":53.6,"e":0.042},{"s":"c1","k":55.8,"e":0.09},{"s":"c1","k":58.2,"e":0.18},{"s":"c1","k":60.2,"e":0.3},{"s":"c1","k":62.2,"e":0.41},
{"s":"c2","k":46,"e":0.41},{"s":"c2","k":48.5,"e":0.29},{"s":"c2","k":51,"e":0.2},{"s":"c2","k":53.6,"e":0.16},{"s":"c2","k":56.2,"e":0.2},{"s":"c2","k":58.8,"e":0.29},{"s":"c2","k":61,"e":0.41},
{"s":"c3","k":46.8,"e":0.41},{"s":"c3","k":49,"e":0.3},{"s":"c3","k":51.3,"e":0.22},{"s":"c3","k":53.6,"e":0.185},{"s":"c3","k":56,"e":0.22},{"s":"c3","k":58.3,"e":0.3},{"s":"c3","k":60.4,"e":0.41},
{"s":"c4","k":47.5,"e":0.41},{"s":"c4","k":49.7,"e":0.31},{"s":"c4","k":51.7,"e":0.245},{"s":"c4","k":53.6,"e":0.21},{"s":"c4","k":55.6,"e":0.245},{"s":"c4","k":57.8,"e":0.31},{"s":"c4","k":60,"e":0.41},
{"s":"c5","k":48.2,"e":0.41},{"s":"c5","k":50.5,"e":0.33},{"s":"c5","k":53.6,"e":0.27},{"s":"c5","k":56.5,"e":0.33},{"s":"c5","k":58.8,"e":0.41},
{"s":"c6","k":47.5,"e":0.41},{"s":"c6","k":50,"e":0.34},{"s":"c6","k":53.6,"e":0.31},{"s":"c6","k":57,"e":0.305},{"s":"c6","k":61,"e":0.31},{"s":"c6","k":64.5,"e":0.35},{"s":"c6","k":67.5,"e":0.41},
{"s":"c7","k":49.3,"e":0.41},{"s":"c7","k":51.5,"e":0.36},{"s":"c7","k":53.6,"e":0.34},{"s":"c7","k":57,"e":0.335},{"s":"c7","k":61,"e":0.35},{"s":"c7","k":63.5,"e":0.38},{"s":"c7","k":65.5,"e":0.41},
{"s":"c8","k":51,"e":0.41},{"s":"c8","k":53.6,"e":0.38},{"s":"c8","k":57,"e":0.37},{"s":"c8","k":60,"e":0.375},{"s":"c8","k":62.5,"e":0.41},
{"s":"v1","k":21,"e":-0.42},{"s":"v1","k":27,"e":-0.36},{"s":"v1","k":34,"e":-0.27},{"s":"v1","k":42,"e":-0.14},{"s":"v1","k":47.5,"e":-0.07},{"s":"v1","k":51,"e":-0.042},{"s":"v1","k":53.6,"e":-0.034},{"s":"v1","k":56,"e":-0.04},{"s":"v1","k":58.7,"e":-0.065},{"s":"v1","k":65,"e":-0.16},{"s":"v1","k":73,"e":-0.27},{"s":"v1","k":78.5,"e":-0.34},{"s":"v1","k":82,"e":-0.42},
{"s":"v2","k":24,"e":-0.42},{"s":"v2","k":30,"e":-0.37},{"s":"v2","k":37,"e":-0.28},{"s":"v2","k":43.5,"e":-0.17},{"s":"v2","k":48.5,"e":-0.1},{"s":"v2","k":53.6,"e":-0.078},{"s":"v2","k":58.5,"e":-0.1},{"s":"v2","k":65,"e":-0.19},{"s":"v2","k":72,"e":-0.29},{"s":"v2","k":77,"e":-0.36},{"s":"v2","k":80.5,"e":-0.42},
{"s":"v3","k":26,"e":-0.42},{"s":"v3","k":32,"e":-0.37},{"s":"v3","k":38.5,"e":-0.29},{"s":"v3","k":44.5,"e":-0.18},{"s":"v3","k":49,"e":-0.115},{"s":"v3","k":53.6,"e":-0.09},{"s":"v3","k":58,"e":-0.115},{"s":"v3","k":64,"e":-0.2},{"s":"v3","k":71,"e":-0.31},{"s":"v3","k":76,"e":-0.38},{"s":"v3","k":79,"e":-0.42},
{"s":"v4","k":29,"e":-0.42},{"s":"v4","k":34.5,"e":-0.37},{"s":"v4","k":40,"e":-0.29},{"s":"v4","k":45.5,"e":-0.19},{"s":"v4","k":50,"e":-0.135},{"s":"v4","k":51.8,"e":-0.13},{"s":"v4","k":53.6,"e":-0.145},{"s":"v4","k":55.4,"e":-0.13},{"s":"v4","k":57.5,"e":-0.14},{"s":"v4","k":63,"e":-0.22},{"s":"v4","k":69,"e":-0.32},{"s":"v4","k":74,"e":-0.39},{"s":"v4","k":77,"e":-0.42},
{"s":"v5","k":31,"e":-0.42},{"s":"v5","k":36,"e":-0.375},{"s":"v5","k":41.5,"e":-0.3},{"s":"v5","k":46.5,"e":-0.21},{"s":"v5","k":50,"e":-0.155},{"s":"v5","k":52,"e":-0.145},{"s":"v5","k":53.6,"e":-0.16},{"s":"v5","k":55.2,"e":-0.145},{"s":"v5","k":58,"e":-0.16},{"s":"v5","k":63.5,"e":-0.24},{"s":"v5","k":69,"e":-0.33},{"s":"v5","k":73,"e":-0.39},{"s":"v5","k":76,"e":-0.42},
{"s":"v6","k":33,"e":-0.42},{"s":"v6","k":38,"e":-0.38},{"s":"v6","k":43,"e":-0.3},{"s":"v6","k":47.5,"e":-0.22},{"s":"v6","k":51,"e":-0.175},{"s":"v6","k":53.6,"e":-0.17},{"s":"v6","k":56.5,"e":-0.175},{"s":"v6","k":60,"e":-0.21},{"s":"v6","k":65,"e":-0.28},{"s":"v6","k":70,"e":-0.36},{"s":"v6","k":74,"e":-0.42},
{"s":"v7","k":55,"e":-0.22},{"s":"v7","k":60,"e":-0.27},{"s":"v7","k":65,"e":-0.29},{"s":"v7","k":70,"e":-0.32},{"s":"v7","k":74,"e":-0.38},{"s":"v7","k":76.5,"e":-0.42},
{"s":"v8","k":56,"e":-0.26},{"s":"v8","k":61,"e":-0.3},{"s":"v8","k":65.5,"e":-0.31},{"s":"v8","k":69.5,"e":-0.35},{"s":"v8","k":72.5,"e":-0.42},
{"s":"v9","k":30,"e":-0.42},{"s":"v9","k":36,"e":-0.38},{"s":"v9","k":41,"e":-0.33},{"s":"v9","k":45,"e":-0.3},{"s":"v9","k":48,"e":-0.29},{"s":"v9","k":50,"e":-0.31},{"s":"v9","k":51.5,"e":-0.36},{"s":"v9","k":52.5,"e":-0.42},
{"s":"v10","k":49.5,"e":-0.42},{"s":"v10","k":51,"e":-0.34},{"s":"v10","k":52.5,"e":-0.295},{"s":"v10","k":53.6,"e":-0.285},{"s":"v10","k":54.7,"e":-0.295},{"s":"v10","k":56.2,"e":-0.34},{"s":"v10","k":57.7,"e":-0.42},
{"s":"v11","k":44,"e":-0.42},{"s":"v11","k":46,"e":-0.395},{"s":"v11","k":48.5,"e":-0.42},
{"s":"v12","k":56.5,"e":-0.42},{"s":"v12","k":59,"e":-0.39},{"s":"v12","k":61.5,"e":-0.42}
]},
"mark":{"type":"line","interpolate":"monotone","color":"#1010ff","strokeWidth":0.8,"opacity":0.85,"clip":true},
"encoding":{"detail":{"field":"s","type":"nominal"}}},
{"data":{"values":[{"k":62.5,"e":-0.009,"t":"71 meV"}]},"mark":{"type":"text","fontSize":7.5,"color":"#333"},
"encoding":{"text":{"field":"t"}}}
]}
]}
]
}
